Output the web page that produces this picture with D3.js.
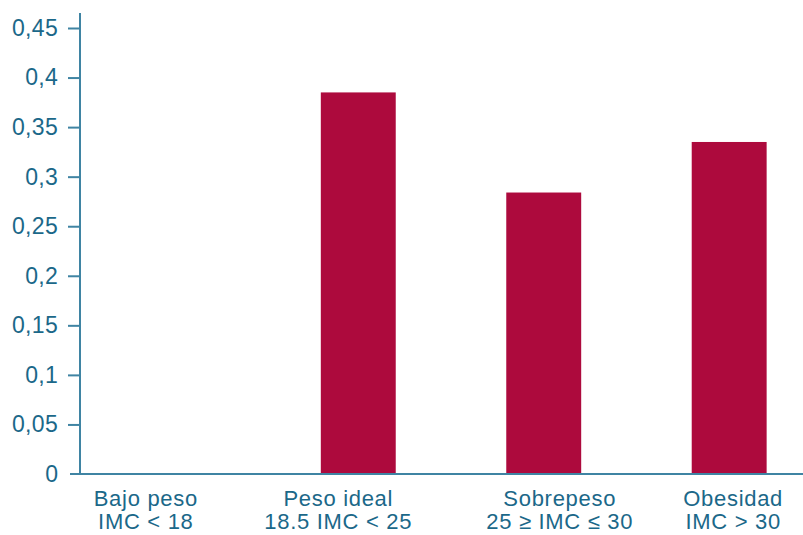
<!DOCTYPE html>
<html>
<head>
<meta charset="utf-8">
<script src="https://cdn.jsdelivr.net/npm/d3@7"></script>
<style>
  body { margin: 0; background: #fff; }
  text { font-family: "Liberation Sans", Arial, sans-serif; fill: #1b6889; }
</style>
</head>
<body>
<svg id="chart" width="803" height="535"></svg>
<script>
// categories (two lines each) and values
var categories = ["Bajo peso", "Peso ideal", "Sobrepeso", "Obesidad"];
var subLabels = ["IMC < 18", "18.5 IMC < 25", "25 ≥ IMC ≤ 30", "IMC > 30"];
var values = [0, 0.385, 0.284, 0.335];
var yTicks = [0, 0.05, 0.1, 0.15, 0.2, 0.25, 0.3, 0.35, 0.4, 0.45];

// labels in the original are nudged off the bar centres
var labelShift = [-27, -20, 16, 4];

var svg = d3.select("#chart");
var axisColor = "#3f84a3";
var barColor = "#ad0a3d";

var x = d3.scaleBand()
  .domain(categories)
  .range([89, 813])
  .paddingInner(0.596)
  .paddingOuter(0.25);

var y = d3.scaleLinear()
  .domain([0, 0.45])
  .range([474, 28]);

// bars
svg.append("g").selectAll("rect")
  .data(values)
  .enter()
  .append("rect")
  .attr("x", (d, i) => x(categories[i]))
  .attr("width", x.bandwidth())
  .attr("y", d => y(d))
  .attr("height", d => y(0) - y(d))
  .attr("fill", barColor);

// y axis
var yAxis = svg.append("g")
  .attr("transform", "translate(80,0)")
  .call(d3.axisLeft(y)
    .tickValues(yTicks.slice(1))
    .tickSize(12)
    .tickPadding(10)
    .tickFormat(d => d3.format("")(+d.toFixed(2)).replace(".", ",")));
yAxis.select(".domain").remove();
yAxis.selectAll("line").attr("stroke", axisColor).attr("stroke-width", 2);
yAxis.selectAll("text")
  .style("font-size", "23px")
  .style("letter-spacing", "0.3px")
  .attr("fill", "#1b6889");

// zero label (the x axis line acts as its tick)
svg.append("text")
  .attr("x", 58)
  .attr("y", y(0))
  .attr("dy", "0.35em")
  .attr("text-anchor", "end")
  .style("font-size", "23px")
  .text("0");

svg.append("line")
  .attr("x1", 80).attr("x2", 80)
  .attr("y1", 13).attr("y2", y(0))
  .attr("stroke", axisColor).attr("stroke-width", 2);

svg.append("line")
  .attr("x1", 70).attr("x2", 803)
  .attr("y1", y(0)).attr("y2", y(0))
  .attr("stroke", axisColor).attr("stroke-width", 2);

// category labels
var labels = svg.append("g").selectAll("text")
  .data(categories)
  .enter()
  .append("text")
  .attr("text-anchor", "middle")
  .attr("x", (d, i) => x(d) + x.bandwidth() / 2 + labelShift[i])
  .attr("y", 506)
  .style("font-size", "22px")
  .style("letter-spacing", "0.7px");

labels.append("tspan").text(d => d);
labels.append("tspan")
  .attr("x", (d, i) => x(d) + x.bandwidth() / 2 + labelShift[i])
  .attr("dy", 23)
  .text((d, i) => subLabels[i]);
</script>
</body>
</html>
